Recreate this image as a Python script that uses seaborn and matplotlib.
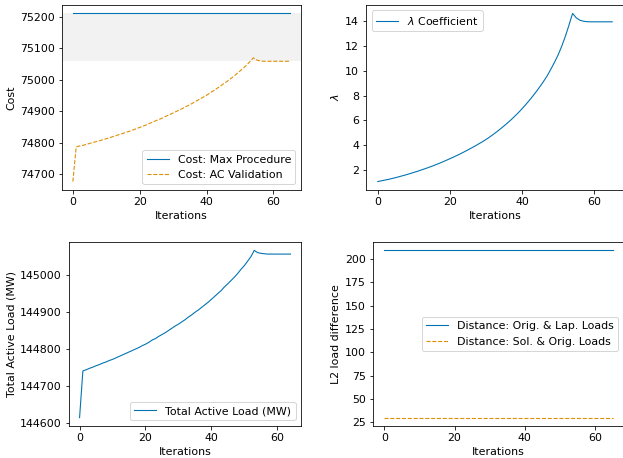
import matplotlib
matplotlib.use("Agg")
from matplotlib import pyplot as plt
from matplotlib.ticker import MultipleLocator
import pandas as pd
import seaborn as sns

# values
cost_max = [75210] * 66
cost_ac = [74676, 74786, 74789, 74791, 74794, 74797, 74800, 74803, 74806, 74809,
           74812, 74815, 74819, 74822, 74826, 74829, 74833, 74836, 74840, 74844,
           74848, 74852, 74856, 74861, 74865, 74870, 74874, 74879, 74884, 74889,
           74894, 74899, 74904, 74909, 74915, 74920, 74926, 74932, 74938, 74944,
           74950, 74957, 74964, 74971, 74978, 74986, 74993, 75001, 75009, 75018,
           75027, 75036, 75046, 75057, 75069, 75062, 75059, 75058, 75058, 75058,
           75058, 75058, 75058, 75058, 75058, 75058]
lam = [1.05, 1.11, 1.17, 1.23, 1.30, 1.37, 1.45, 1.53, 1.61, 1.70,
       1.79, 1.88, 1.98, 2.08, 2.18, 2.29, 2.40, 2.52, 2.64, 2.77,
       2.90, 3.03, 3.17, 3.31, 3.46, 3.61, 3.77, 3.93, 4.10, 4.27,
       4.45, 4.65, 4.86, 5.08, 5.31, 5.55, 5.80, 6.06, 6.34, 6.63,
       6.94, 7.27, 7.61, 7.97, 8.35, 8.75, 9.17, 9.62, 10.15, 10.70,
       11.30, 12.00, 12.80, 13.70, 14.65, 14.30, 14.10, 14.02, 13.98, 13.97,
       13.97, 13.97, 13.97, 13.97, 13.97, 13.97]
load = [144615, 144741, 144744, 144748, 144751, 144755, 144758, 144762, 144765, 144769,
        144772, 144776, 144780, 144784, 144788, 144792, 144796, 144800, 144804, 144809,
        144813, 144818, 144824, 144828, 144834, 144839, 144844, 144850, 144856, 144862,
        144867, 144873, 144879, 144886, 144892, 144899, 144905, 144912, 144919, 144926,
        144934, 144942, 144950, 144958, 144968, 144976, 144985, 144994, 145004, 145015,
        145025, 145037, 145049, 145066, 145060, 145058, 145057, 145056, 145056, 145056,
        145056, 145056, 145056, 145056, 145056]
dist_lap = [209.2] * 66
dist_sol = [30.0] * 66

plt.rcParams['font.size'] = 11
blue, orange = sns.color_palette("colorblind")[:2]
lw = 1.1

cost_df = pd.DataFrame({'it': range(len(cost_ac)), 'max': cost_max, 'ac': cost_ac})
lam_df = pd.DataFrame({'it': range(len(lam)), 'lam': lam})
load_df = pd.DataFrame({'it': range(len(load)), 'load': load})
dist_df = pd.DataFrame({'it': range(len(dist_lap)), 'lap': dist_lap, 'sol': dist_sol})

fig = plt.figure(figsize=(623 / 72, 458 / 72), dpi=72)
ax1 = fig.add_axes([0.0995, 0.5852, 0.3836, 0.4039])
ax2 = fig.add_axes([0.5875, 0.5852, 0.4141, 0.4039])
ax3 = fig.add_axes([0.1108, 0.0699, 0.3724, 0.4017])
ax4 = fig.add_axes([0.5987, 0.0699, 0.4029, 0.4017])

# cost
ax1.axhspan(cost_ac[-1], cost_max[-1], color='grey', alpha=0.1, lw=0)
sns.lineplot(data=cost_df, x='it', y='max', ax=ax1, color=blue, lw=lw, label='Cost: Max Procedure')
sns.lineplot(data=cost_df, x='it', y='ac', ax=ax1, color=orange, lw=lw, linestyle='--',
             label='Cost: AC Validation')
ax1.set_ylabel('Cost')
ax1.legend(loc='lower right')

# lambda
sns.lineplot(data=lam_df, x='it', y='lam', ax=ax2, color=blue, lw=lw, label=r'$\lambda$ Coefficient')
ax2.set_ylabel(r'$\lambda$')
ax2.legend(loc='upper left')

# total load
sns.lineplot(data=load_df, x='it', y='load', ax=ax3, color=blue, lw=lw, label='Total Active Load (MW)')
ax3.set_ylabel('Total Active Load (MW)')
ax3.legend(loc='lower right')

# distances
sns.lineplot(data=dist_df, x='it', y='lap', ax=ax4, color=blue, lw=lw,
             label='Distance: Orig. & Lap. Loads')
sns.lineplot(data=dist_df, x='it', y='sol', ax=ax4, color=orange, lw=lw, linestyle='--',
             label='Distance: Sol. & Orig. Loads')
ax4.set_ylabel('L2 load difference')
ax4.legend(loc='center right')

for ax in [ax1, ax2, ax3, ax4]:
    ax.set_xlabel('Iterations')
    ax.xaxis.set_major_locator(MultipleLocator(20))
    ax.ticklabel_format(axis='y', useOffset=False, style='plain')

plt.savefig('out.png', dpi=72)
